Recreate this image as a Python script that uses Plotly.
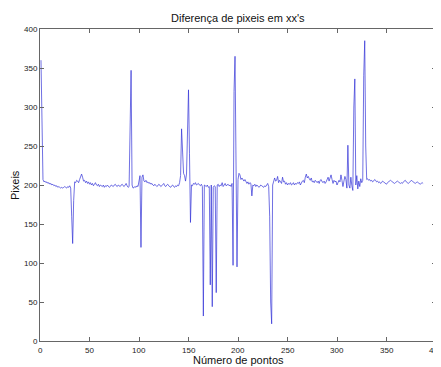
import plotly.graph_objects as go

y_vals = (
    [360, 250, 207, 204, 205, 203, 204, 202, 203, 201]
    + [202, 200, 201, 199, 200, 198, 199, 197, 198, 197]
    + [196, 197, 196, 197, 198, 197, 196, 198, 197, 199]
    + [196, 160, 125, 180, 204, 203, 206, 205, 203, 207]
    + [212, 214, 210, 205, 206, 203, 205, 202, 204, 201]
    + [203, 200, 202, 199, 201, 203, 200, 199, 201, 198]
    + [200, 199, 198, 200, 197, 199, 198, 200, 199, 197]
    + [198, 200, 199, 198, 200, 201, 199, 198, 200, 199]
    + [198, 200, 201, 199, 198, 200, 202, 199, 197, 198]
    + [280, 347, 200, 196, 197, 198, 197, 199, 198, 206]
    + [212, 120, 210, 213, 205, 204, 206, 203, 204, 202]
    + [203, 201, 202, 200, 199, 201, 200, 198, 199, 201]
    + [200, 198, 199, 200, 202, 199, 198, 200, 201, 199]
    + [198, 197, 199, 200, 198, 197, 199, 198, 200, 199]
    + [203, 212, 272, 230, 215, 212, 205, 214, 260, 322]
    + [240, 152, 200, 199, 202, 201, 203, 200, 201, 202]
    + [200, 199, 201, 198, 32, 200, 199, 198, 200, 197]
    + [198, 72, 200, 44, 197, 199, 198, 62, 200, 201]
    + [198, 200, 199, 203, 198, 201, 202, 199, 200, 201]
    + [199, 200, 198, 202, 97, 320, 365, 155, 95, 207]
    + [215, 213, 207, 209, 206, 205, 207, 203, 202, 204]
    + [201, 203, 202, 186, 200, 199, 201, 198, 200, 199]
    + [197, 198, 200, 199, 198, 197, 199, 198, 200, 202]
    + [198, 160, 50, 22, 200, 207, 209, 205, 206, 211]
    + [203, 206, 204, 202, 210, 204, 205, 201, 203, 200]
    + [202, 201, 203, 200, 201, 203, 200, 202, 201, 203]
    + [202, 204, 200, 203, 205, 206, 203, 210, 214, 209]
    + [211, 208, 206, 209, 204, 205, 203, 206, 204, 203]
    + [205, 202, 206, 207, 204, 203, 205, 202, 204, 207]
    + [210, 205, 208, 213, 207, 202, 206, 204, 205, 200]
    + [203, 206, 204, 213, 206, 198, 205, 211, 207, 196]
    + [251, 200, 196, 210, 199, 193, 300, 336, 200, 212]
    + [195, 205, 198, 208, 203, 206, 340, 385, 250, 207]
    + [208, 206, 207, 205, 206, 204, 205, 207, 206, 204]
    + [205, 203, 204, 202, 203, 205, 204, 203, 202, 201]
    + [203, 204, 205, 206, 205, 204, 203, 202, 203, 204]
    + [205, 204, 203, 202, 203, 202, 204, 205, 206, 204]
    + [203, 202, 203, 205, 206, 205, 204, 203, 202, 203]
    + [204, 203, 202, 201, 202, 203, 202]
)
x_vals = list(range(1, len(y_vals) + 1))

x_ticks = [0, 50, 100, 150, 200, 250, 300, 350, 400]
y_ticks = [0, 50, 100, 150, 200, 250, 300, 350, 400]

title_text = "Diferença de pixeis em xx's"
x_title = "Número de pontos"
y_title = "Pixeis"

FONT = "Liberation Sans, Arial"

fig = go.Figure()
fig.add_trace(go.Scatter(
    x=x_vals, y=y_vals, mode="lines",
    line=dict(color="rgb(50,50,215)", width=0.7),
    showlegend=False, hoverinfo="skip",
))

axis_common = dict(
    showgrid=False, zeroline=False, showline=True, linecolor="#666666",
    linewidth=1, mirror="ticks", ticks="inside", ticklen=4, tickcolor="#666666",
    automargin=False,
    tickfont=dict(family=FONT, size=8, color="#222222"),
)
# x tick labels drawn as annotations so the clipped "400" at the edge is kept
fig.update_xaxes(range=[0, 400], tickvals=x_ticks, showticklabels=False, **axis_common)
fig.update_yaxes(range=[0, 400], tickvals=y_ticks, ticktext=[str(v) for v in y_ticks], **axis_common)

annotations = [
    dict(text=title_text, x=0.5, xref="paper", y=1, yref="paper", yshift=11,
         yanchor="middle", showarrow=False,
         font=dict(family=FONT, size=11, color="#111111")),
    dict(text=x_title, x=0.5, xref="paper", y=0, yref="paper", yshift=-19,
         yanchor="middle", showarrow=False,
         font=dict(family=FONT, size=11, color="#111111")),
    dict(text=y_title, x=0, xref="paper", xshift=-25, y=0.5, yref="paper",
         showarrow=False, textangle=-90, xanchor="center",
         font=dict(family=FONT, size=11, color="#111111")),
]
for v in x_ticks:
    annotations.append(dict(
        text=str(v), x=v, xref="x", y=0, yref="paper", yshift=-9,
        yanchor="middle", xanchor="center", showarrow=False,
        font=dict(family=FONT, size=8, color="#222222"),
    ))

# the page body has an 8px margin, so the figure is sized to fill the rest of the window
fig.update_layout(
    width=433, height=359,
    margin=dict(l=32, r=5, t=21, b=26, autoexpand=False),
    paper_bgcolor="white", plot_bgcolor="white",
    annotations=annotations,
)

fig.write_html("out.html")
